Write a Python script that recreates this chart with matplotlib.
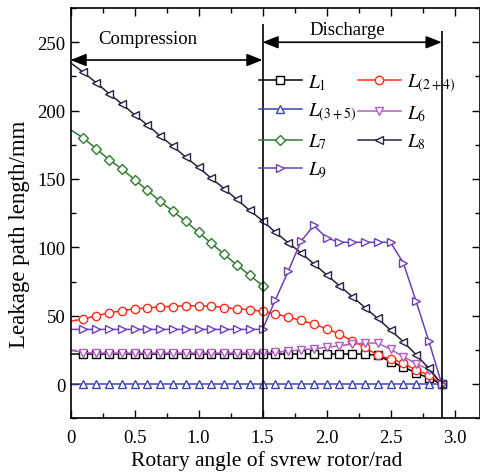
import numpy as np
import matplotlib
matplotlib.use("Agg")
import matplotlib.pyplot as plt

plt.rcParams['font.family'] = 'Liberation Serif'
plt.rcParams['mathtext.fontset'] = 'stix'

# rotary angle (rad), one point every 0.1 rad
angle = np.round(np.arange(0, 2.95, 0.1), 2)
angle_comp = angle[:16]

L1 = [22, 22, 22, 22, 22, 22, 22, 22, 22, 22, 22, 22, 22, 22, 22, 22,
      22, 22, 22, 22, 22, 22, 22, 22, 21, 16.5, 12.5, 8.2, 4.4, 0]
L24 = [46, 47.6, 50, 52, 53.7, 55.1, 55.6, 56.6, 56.7, 57.3, 57.3, 57, 56, 55, 54.4, 53.2,
       51.5, 49, 46.6, 43.9, 40.5, 36.6, 31.7, 27, 21, 18.5, 15.4, 10, 6.8, 0]
L35 = [0] * 30
L6 = [25, 23, 22.7, 22.7, 22.7, 22.7, 22.7, 22.7, 22.7, 22.7, 22.7, 22.7, 22.7, 22.7, 22.7, 22.8,
      23.2, 24, 25.1, 25.9, 26.8, 28, 29.3, 30, 30, 25.5, 20, 15, 10.5, 0]
L7 = [186, 180, 172.2, 164.2, 157.4, 149.6, 141.7, 133.7, 126.4, 119, 111, 103, 95, 87, 79.6, 72]
L8 = [235, 228, 220.5, 212.5, 205, 197, 189.5, 181.5, 174, 166, 158.5, 150.5, 143, 135, 127, 119.5,
      111, 103.5, 96, 88, 80, 72, 64, 56, 48, 39.5, 31, 21.5, 11.5, 0]
L9 = [40] * 16 + [61.5, 82.4, 104.4, 116, 107, 103.7, 103.7, 103.7, 103.7, 103.7, 88.6, 60.5, 31.2, 0]

series = [
    (angle, L1, r'$L_{\mathrm{1}}$', 'black', 's'),
    (angle, L24, r'$L_{\mathrm{(2+4)}}$', '#ff2a1a', 'o'),
    (angle, L35, r'$L_{\mathrm{(3+5)}}$', '#3a48a8', '^'),
    (angle, L6, r'$L_{\mathrm{6}}$', '#b05cc0', 'v'),
    (angle_comp, L7, r'$L_{\mathrm{7}}$', '#2f7d2f', 'D'),
    (angle, L8, r'$L_{\mathrm{8}}$', '#2a2040', '<'),
    (angle, L9, r'$L_{\mathrm{9}}$', '#6a40b4', '>'),
]

fig = plt.figure(figsize=(4.81, 4.77), dpi=100)
ax = fig.add_axes([0.1466, 0.121, 0.8516, 0.860])

lines = []
for x, y, lab, c, m in series:
    ms = 5.2 if m == 'D' else 6
    ln, = ax.plot(x, y, color=c, marker=m, markersize=ms, markerfacecolor='white',
                  markeredgecolor=c, markeredgewidth=1.0, lw=1.1, label=lab)
    lines.append(ln)

# legend filled row by row: L1 L(2+4) / L(3+5) L6 / L7 L8 / L9
order = [0, 2, 4, 6, 1, 3, 5]
handles = [lines[i] for i in order]
leg = ax.legend(handles, [h.get_label() for h in handles], ncol=2, loc='upper left',
                bbox_to_anchor=(259 / 481, 1 - 73 / 477),
                bbox_transform=fig.transFigure, frameon=False, fontsize=14,
                handlelength=2.2, handletextpad=0.3, columnspacing=0.1,
                labelspacing=0.45, borderpad=0, borderaxespad=0)
# no marker drawn on the y axis itself
for ln in lines:
    ln.set_markevery(slice(1, None))

# stage boundaries and arrows
ax.vlines(1.5, -25, 263, color='black', lw=1.2)
ax.vlines(2.9, -25, 258, color='black', lw=1.2)
arrow = dict(arrowstyle='<|-|>,head_length=0.95,head_width=0.38', color='black',
             lw=1.2, shrinkA=0, shrinkB=0, mutation_scale=10)
ax.annotate('', xy=(1.5, 237), xytext=(0, 237), arrowprops=arrow)
ax.annotate('', xy=(2.9, 250), xytext=(1.5, 250), arrowprops=arrow)
ax.text(0.6, 253, 'Compression', ha='center', va='center', fontsize=13.5)
ax.text(2.16, 259.5, 'Discharge', ha='center', va='center', fontsize=13.5)

ax.set_xlim(0, 3.2)
ax.set_ylim(-25, 275)
ax.set_xticks([0, 0.5, 1.0, 1.5, 2.0, 2.5, 3.0])
ax.set_xticklabels(['0', '0.5', '1.0', '1.5', '2.0', '2.5', '3.0'])
ax.set_xticks(np.arange(0.25, 3.2, 0.5), minor=True)
ax.set_yticks([0, 50, 100, 150, 200, 250])
ax.set_yticks(np.arange(-25, 276, 50), minor=True)
ax.tick_params(which='both', direction='in', top=True, right=True, labelsize=13.5, width=1.0)
ax.tick_params(which='major', length=6)
ax.tick_params(which='minor', length=3.5)
ax.tick_params(axis='x', pad=8)
for s in ax.spines.values():
    s.set_linewidth(1.2)

ax.set_xlabel('Rotary angle of svrew rotor/rad', fontsize=15.5)
ax.set_ylabel('Leakage path length/mm', fontsize=16.5)
ax.xaxis.set_label_coords(0.48, -0.078)
ax.yaxis.set_label_coords(-0.1, 0.45)

fig.savefig('out.png', dpi=100)
